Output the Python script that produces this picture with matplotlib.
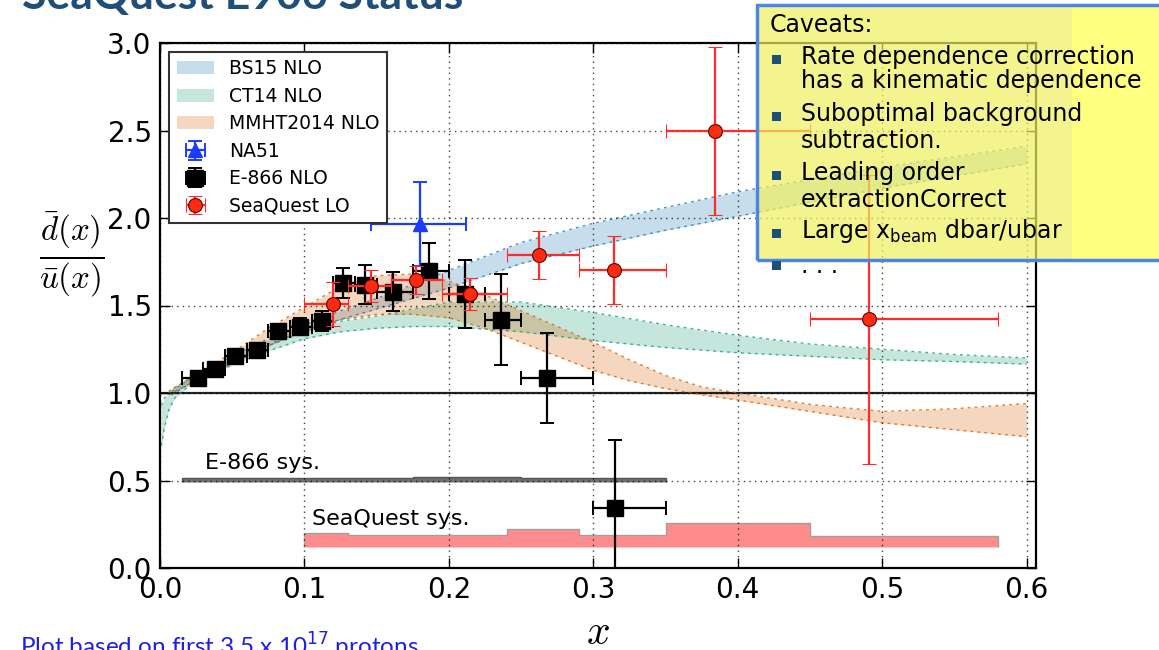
import matplotlib
matplotlib.use("Agg")
import matplotlib.pyplot as plt
from matplotlib.patches import Rectangle

plt.rcParams["font.family"] = ["DejaVu Sans"]
plt.rcParams["mathtext.fontset"] = "custom"
plt.rcParams["mathtext.rm"] = "DejaVu Sans"
plt.rcParams["mathtext.it"] = "DejaVu Sans:italic"

# ---------------- theory bands ----------------
bs15_x = [0.008, 0.02, 0.03, 0.05, 0.075, 0.1, 0.125, 0.15, 0.2, 0.25, 0.3, 0.35, 0.4, 0.45, 0.5, 0.55, 0.6]
bs15_lo = [0.99, 1.05, 1.09, 1.17, 1.27, 1.35, 1.42, 1.48, 1.60, 1.74, 1.84, 1.93, 2.01, 2.09, 2.17, 2.24, 2.31]
bs15_hi = [1.01, 1.08, 1.12, 1.21, 1.31, 1.39, 1.47, 1.54, 1.70, 1.86, 1.97, 2.06, 2.15, 2.22, 2.29, 2.35, 2.41]

ct14_x = [0.001, 0.003, 0.006, 0.01, 0.02, 0.03, 0.05, 0.075, 0.1, 0.125, 0.15, 0.175, 0.2, 0.25,
          0.3, 0.35, 0.4, 0.45, 0.5, 0.55, 0.6]
ct14_lo = [0.70, 0.80, 0.90, 0.97, 1.04, 1.08, 1.16, 1.24, 1.31, 1.35, 1.37, 1.38, 1.38, 1.35,
           1.30, 1.26, 1.23, 1.21, 1.19, 1.18, 1.165]
ct14_hi = [0.93, 0.97, 1.00, 1.03, 1.08, 1.12, 1.20, 1.28, 1.36, 1.41, 1.44, 1.48, 1.52, 1.52,
           1.46, 1.39, 1.33, 1.28, 1.25, 1.22, 1.20]

mmht_x = [0.006, 0.02, 0.03, 0.05, 0.075, 0.1, 0.125, 0.15, 0.175, 0.2, 0.225, 0.25, 0.275, 0.3,
          0.325, 0.35, 0.375, 0.4, 0.45, 0.5, 0.55, 0.6]
mmht_lo = [0.99, 1.05, 1.09, 1.17, 1.27, 1.36, 1.42, 1.45, 1.45, 1.43, 1.37, 1.29, 1.21, 1.13,
           1.07, 1.025, 0.99, 0.96, 0.895, 0.83, 0.79, 0.75]
mmht_hi = [1.01, 1.08, 1.13, 1.23, 1.37, 1.49, 1.61, 1.67, 1.68, 1.64, 1.56, 1.47, 1.38, 1.29,
           1.19, 1.10, 1.035, 1.00, 0.935, 0.895, 0.91, 0.94]

# ---------------- measurements ----------------
na51_x = [0.180]
na51_y = [1.966]
na51_yerr = [0.24]
na51_xlo = [0.146]
na51_xhi = [0.212]

e866_x = [0.026, 0.038, 0.052, 0.067, 0.082, 0.097, 0.112, 0.127, 0.142, 0.161, 0.186, 0.211,
          0.236, 0.268, 0.315]
e866_y = [1.086, 1.14, 1.21, 1.246, 1.354, 1.38, 1.41, 1.63, 1.62, 1.58, 1.70, 1.566,
          1.42, 1.086, 0.343]
e866_yerr = [0.04, 0.04, 0.04, 0.04, 0.04, 0.05, 0.057, 0.086, 0.11, 0.11, 0.16, 0.195,
             0.26, 0.255, 0.39]
e866_xlo = [0.015, 0.030, 0.045, 0.060, 0.075, 0.090, 0.105, 0.120, 0.135, 0.150, 0.175, 0.200,
            0.225, 0.250, 0.300]
e866_xhi = [0.030, 0.045, 0.060, 0.075, 0.090, 0.105, 0.120, 0.135, 0.150, 0.175, 0.200, 0.225,
            0.250, 0.300, 0.350]

sq_x = [0.120, 0.146, 0.177, 0.2145, 0.2627, 0.3146, 0.3846, 0.491]
sq_y = [1.51, 1.611, 1.646, 1.566, 1.79, 1.703, 2.497, 1.421]
sq_yerr = [0.125, 0.09, 0.08, 0.09, 0.136, 0.194, 0.48, 0.827]
sq_edges = [0.10, 0.13, 0.16, 0.195, 0.24, 0.29, 0.35, 0.45, 0.58]

# ---------------- systematic uncertainties ----------------
e866_sys_edges = [0.015, 0.10, 0.175, 0.25, 0.30, 0.35]
e866_sys_top = [0.512, 0.516, 0.52, 0.516, 0.512]
e866_sys_base = 0.49

sq_sys_top = [0.20, 0.19, 0.19, 0.19, 0.222, 0.19, 0.26, 0.183]
sq_sys_base = 0.12

caveats = [
    ["Rate dependence correction", "has a kinematic dependence"],
    ["Suboptimal background", "subtraction."],
    ["Leading order", "extractionCorrect"],
    [r"Large x$_{\mathrm{beam}}$ dbar/ubar"],
]

W, H = 1159, 650
fig = plt.figure(figsize=(W / 100, H / 100), dpi=100)
fig.patch.set_facecolor("white")


def fx(px):
    return px / W


def fy(py):
    return 1 - py / H


ax = fig.add_axes([fx(160), fy(568), fx(1036) - fx(160), fy(43) - fy(568)])

band_specs = [
    (bs15_x, bs15_lo, bs15_hi, "#1f78b4", "BS15 NLO"),
    (ct14_x, ct14_lo, ct14_hi, "#1b9e77", "CT14 NLO"),
    (mmht_x, mmht_lo, mmht_hi, "#d95f02", "MMHT2014 NLO"),
]
band_handles = []
for bx, lo, hi, col, lab in band_specs:
    h = ax.fill_between(bx, lo, hi, facecolor=col, alpha=0.25, edgecolor=col, linewidth=0, label=lab)
    ax.plot(bx, lo, ls=(0, (2, 3)), color=col, lw=1.0, alpha=0.8)
    ax.plot(bx, hi, ls=(0, (2, 3)), color=col, lw=1.0, alpha=0.8)
    band_handles.append(h)

# systematic uncertainty histograms
ax.stairs(e866_sys_top, e866_sys_edges, baseline=e866_sys_base, fill=True,
          facecolor="#6e6e6e", edgecolor="#555555", lw=1, zorder=1.5)
ax.stairs(sq_sys_top, sq_edges, baseline=sq_sys_base, fill=True,
          facecolor="#ff8c8c", edgecolor="#a0a0a0", lw=1, zorder=1.5)
ax.text(0.031, 0.60, "E-866 sys.", fontsize=16, va="center")
ax.text(0.105, 0.28, "SeaQuest sys.", fontsize=16, va="center")

ax.axhline(1.0, color="#222222", lw=1.6, zorder=1.8)

# data points with error bars
na_xerr = [[c - l for c, l in zip(na51_x, na51_xlo)], [h - c for c, h in zip(na51_x, na51_xhi)]]
h_na = ax.errorbar(na51_x, na51_y, yerr=na51_yerr, xerr=na_xerr, fmt="^", color="#1a3cff",
                   ms=10, mec="#1a3cff", elinewidth=1.6, capsize=5, capthick=1.4, label="NA51", zorder=3)

e_xerr = [[c - l for c, l in zip(e866_x, e866_xlo)], [h - c for c, h in zip(e866_x, e866_xhi)]]
h_e = ax.errorbar(e866_x, e866_y, yerr=e866_yerr, xerr=e_xerr, fmt="s", color="black",
                  ms=11, elinewidth=1.6, capsize=5, capthick=1.4, label="E-866 NLO", zorder=4)

sq_xlo = [c - l for c, l in zip(sq_x, sq_edges[:-1])]
sq_xhi = [h - c for c, h in zip(sq_x, sq_edges[1:])]
h_sq = ax.errorbar(sq_x, sq_y, yerr=sq_yerr, xerr=[sq_xlo, sq_xhi], fmt="o", color="#ff2a10",
                   ecolor="#ff2a2a", ms=10, mec="#600000", mew=0.8, elinewidth=1.6, capsize=5,
                   capthick=1.4, label="SeaQuest LO", zorder=5)

ax.set_xlim(0, 0.6065)
ax.set_ylim(0, 3.0)
ax.set_xticks([0.0, 0.1, 0.2, 0.3, 0.4, 0.5, 0.6])
ax.set_yticks([0.0, 0.5, 1.0, 1.5, 2.0, 2.5, 3.0])
ax.set_axisbelow(False)
ax.grid(True, ls=(0, (1, 3)), color="black", lw=1.0, alpha=0.75)
ax.tick_params(direction="in", length=7, width=1, labelsize=20, top=True, right=True, pad=6)
for s in ax.spines.values():
    s.set_linewidth(1.6)

leg = ax.legend(handles=band_handles + [h_na, h_e, h_sq], loc="upper left",
                bbox_to_anchor=(0.0103, 0.983), borderaxespad=0, fontsize=13.5,
                fancybox=False, edgecolor="#333333", framealpha=1, numpoints=1,
                handlelength=2.0, handletextpad=0.8, labelspacing=0.45, borderpad=0.4)
leg.get_frame().set_linewidth(1.5)

# axis labels
fig.text(fx(598), fy(632), r"$x$", fontsize=30, ha="center", va="center", math_fontfamily="cm")
fig.text(fx(72), fy(255), r"$\frac{\bar{d}(x)}{\bar{u}(x)}$", fontsize=34, ha="center",
         va="center", math_fontfamily="cm")

# slide title and footnote
fig.text(fx(22), fy(9), "SeaQuest E906 Status", fontsize=32, fontweight="bold",
         family="Lato", color="#1f4e79", va="baseline")
fig.text(fx(20), fy(656), r"Plot based on first 3.5 x 10$^{17}$ protons", fontsize=17.5,
         family="Lato", color="#1e1ee6", va="baseline", math_fontfamily="dejavusans")

# caveats box
fig.add_artist(Rectangle((fx(757), fy(260)), fx(1072) - fx(757), fy(5) - fy(260),
                         transform=fig.transFigure, facecolor="#f0f060", alpha=0.7,
                         edgecolor="none", zorder=10))
fig.add_artist(Rectangle((fx(1072), fy(260)), fx(1170) - fx(1072), fy(5) - fy(260),
                         transform=fig.transFigure, facecolor="#ffff80",
                         edgecolor="none", zorder=10))
fig.add_artist(Rectangle((fx(757), fy(260)), fx(1175) - fx(757), fy(5) - fy(260),
                         transform=fig.transFigure, facecolor="none",
                         edgecolor="#4a86e8", lw=2.5, zorder=11))

fig.text(fx(770), fy(32), "Caveats:", fontsize=17, va="baseline", zorder=12)
bullet_rows = [59, 116, 175, 233]
line_baselines = [[64, 88], [121, 148], [180, 207], [238]]
for lines, by, bases in zip(caveats, bullet_rows, line_baselines):
    fig.add_artist(Rectangle((fx(772), fy(by + 4.5)), fx(9), 9 / H, transform=fig.transFigure,
                             facecolor="#1f4e79", edgecolor="none", zorder=12))
    for txt, base in zip(lines, bases):
        fig.text(fx(801), fy(base), txt, fontsize=17, va="baseline", zorder=12)

fig.add_artist(Rectangle((fx(772), fy(266 + 4.5)), fx(9), 9 / H, transform=fig.transFigure,
                         facecolor="#1f4e79", edgecolor="none", zorder=12))
fig.text(fx(801), fy(273), ". . .", fontsize=17, va="baseline", zorder=12)

fig.savefig("out.png", dpi=100)
